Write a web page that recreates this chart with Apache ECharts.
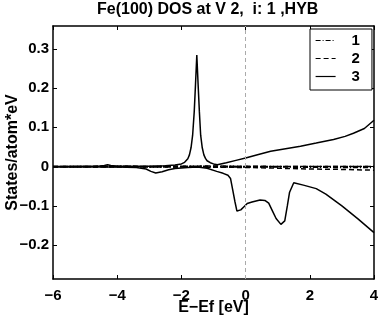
<!DOCTYPE html>
<html><head><meta charset="utf-8">
<script src="https://cdn.jsdelivr.net/npm/echarts@6/dist/echarts.min.js"></script>
<style>html,body{margin:0;padding:0;background:#fff}#c{width:382px;height:315px}</style>
</head><body><div id="c"></div>
<script>
const titleText = 'Fe(100) DOS at V 2,  i: 1 ,HYB';
const xName = 'E\u2212Ef [eV]';
const yName = 'States/atom*eV';
const legendNames = ['1', '2', '3'];
const xTicks = [-6, -4, -2, 0, 2, 4];
const yTicks = [-0.2, -0.1, 0, 0.1, 0.2, 0.3];

// series 1 (dash-dot)
const s1E = [-6, -5, -4, -3, -2, -1, 0, 1, 2, 3, 4];
const s1Up = [0.0005, 0.0005, 0.001, 0.0005, 0.001, 0.001, 0.0005, 0.0005, 0.0005, 0.0005, 0.0005];
const s1Dn = [-0.0005, -0.0005, -0.0005, -0.001, -0.001, -0.001, -0.001, -0.001, -0.0015, -0.002, -0.002];
// series 2 (dashed)
const s2E = [-6, -5, -4, -3, -2, -1, 0, 1, 2, 3, 4];
const s2Up = [0.0005, 0.0005, 0.001, 0.0005, 0.001, 0.0015, 0.001, 0.0005, 0.0005, 0.0005, 0.0005];
const s2Dn = [-0.0005, -0.0005, -0.001, -0.001, -0.001, -0.0015, -0.002, -0.004, -0.006, -0.007, -0.009];
// series 3 (solid), spin up
const s3UpE = [-6, -5, -4.6, -4.4, -4.3, -4.2, -4.0, -3, -2.5, -2.2, -2.0, -1.9, -1.8, -1.75, -1.7, -1.65, -1.6, -1.56, -1.52, -1.48, -1.44, -1.4, -1.35, -1.3, -1.25, -1.2, -1.1, -1.0, -0.88, -0.6, -0.3, 0, 0.4, 0.78, 1.2, 1.71, 2.2, 2.74, 3.1, 3.36, 3.7, 4];
const s3UpV = [0.0005, 0.001, 0.001, 0.003, 0.005, 0.003, 0.001, 0.001, 0.002, 0.004, 0.007, 0.011, 0.02, 0.03, 0.048, 0.08, 0.14, 0.21, 0.284, 0.21, 0.14, 0.08, 0.048, 0.03, 0.021, 0.015, 0.01, 0.007, 0.005, 0.01, 0.016, 0.022, 0.031, 0.039, 0.045, 0.052, 0.06, 0.069, 0.077, 0.085, 0.097, 0.118];
// series 3 (solid), spin down
const s3DnE = [-6, -4, -3.4, -3.1, -2.95, -2.8, -2.6, -2.4, -2.2, -1.8, -1.5, -1.2, -0.9, -0.7, -0.55, -0.47, -0.4, -0.33, -0.27, -0.15, -0.05, 0.05, 0.2, 0.45, 0.6, 0.72, 0.85, 0.95, 1.1, 1.22, 1.3, 1.37, 1.5, 1.8, 2.2, 2.5, 3, 3.5, 4];
const s3DnV = [-0.001, -0.001, -0.002, -0.006, -0.012, -0.016, -0.013, -0.008, -0.005, -0.002, -0.001, -0.004, -0.012, -0.017, -0.022, -0.03, -0.06, -0.09, -0.113, -0.11, -0.102, -0.094, -0.09, -0.085, -0.086, -0.093, -0.115, -0.132, -0.147, -0.138, -0.1, -0.065, -0.041, -0.047, -0.056, -0.07, -0.1, -0.133, -0.168];

const pair = (E, V) => E.map((e, i) => [e, V[i]]);
const font = 'Liberation Sans, Arial, Helvetica, sans-serif';
const fmtNum = v => (v < 0 ? '\u2212' : '') + String(Math.round(Math.abs(v) * 10) / 10);
const yMin = -0.286, yMax = 0.358;

const dashDot = [5, 2, 1, 2];
const dashed = [5, 3];
function mk(name, data, type, extra) {
  return Object.assign({
    name, type: 'line', data, symbol: 'none', smooth: false,
    lineStyle: { color: '#000', width: 1.5, type },
    itemStyle: { color: '#000' },
    emphasis: { disabled: true }, animation: false, z: 3
  }, extra || {});
}

const chart = echarts.init(document.getElementById('c'), null, { renderer: 'canvas' });
const axisLineStyle = { show: true, onZero: false, lineStyle: { color: '#000', width: 1.5 } };
const tickStyle = { show: true, inside: true, length: 4, lineStyle: { color: '#000', width: 1 } };
chart.setOption({
  animation: false,
  backgroundColor: '#fff',
  title: {
    text: titleText, left: 97, top: 2, padding: 0,
    textStyle: { fontFamily: font, fontSize: 16, fontWeight: 'bold', color: '#000' }
  },
  grid: { left: 53, right: 8, top: 26, bottom: 36, containLabel: false, outerBoundsMode: 'none' },
  legend: {
    data: legendNames, orient: 'vertical', left: 310, top: 29,
    padding: [4, 12, 6, 5], itemWidth: 20, itemHeight: 14, itemGap: 3,
    backgroundColor: '#fff', borderColor: '#000', borderWidth: 1, borderRadius: 0,
    itemStyle: { opacity: 0, borderWidth: 0 },
    lineStyle: { width: 1.2 },
    textStyle: { fontFamily: font, fontSize: 15, fontWeight: 'bold', color: '#000', padding: [0, 0, 0, 11] }
  },
  xAxis: [{
    type: 'value', min: -6, max: 4, interval: 2, position: 'bottom',
    name: xName, nameLocation: 'middle', nameGap: 21, nameMoveOverlap: false,
    nameTextStyle: { fontFamily: font, fontSize: 16, fontWeight: 'bold', color: '#000' },
    axisLine: axisLineStyle, axisTick: tickStyle,
    axisLabel: { fontFamily: font, fontSize: 15, fontWeight: 'bold', color: '#000', margin: 9, formatter: v => (v < 0 ? '\u2212' : '') + Math.abs(v) },
    splitLine: { show: false }
  }, {
    type: 'value', min: -6, max: 4, interval: 2, position: 'top',
    axisLine: axisLineStyle, axisTick: tickStyle,
    axisLabel: { show: false }, splitLine: { show: false }
  }],
  yAxis: [{
    type: 'value', min: yMin, max: yMax, position: 'left',
    name: yName, nameLocation: 'middle', nameGap: 32, nameRotate: 90, nameMoveOverlap: false,
    nameTextStyle: { fontFamily: font, fontSize: 16, fontWeight: 'bold', color: '#000' },
    axisLine: axisLineStyle,
    axisTick: Object.assign({ customValues: yTicks }, tickStyle),
    axisLabel: { fontFamily: font, fontSize: 15, fontWeight: 'bold', color: '#000', margin: 4, customValues: yTicks, formatter: fmtNum },
    splitLine: { show: false }
  }, {
    type: 'value', min: yMin, max: yMax, position: 'right',
    axisLine: axisLineStyle,
    axisTick: Object.assign({ customValues: yTicks }, tickStyle),
    axisLabel: { show: false }, splitLine: { show: false }
  }],
  series: [
    mk('1', pair(s1E, s1Up), dashDot, {
      markLine: {
        silent: true, symbol: 'none', label: { show: false },
        lineStyle: { color: '#aaa', type: [4, 3], width: 1 },
        data: [{ xAxis: 0 }], animation: false
      }
    }),
    mk('1', pair(s1E, s1Dn), dashDot),
    mk('2', pair(s2E, s2Up), dashed),
    mk('2', pair(s2E, s2Dn), dashed),
    mk('3', pair(s3UpE, s3UpV), 'solid'),
    mk('3', pair(s3DnE, s3DnV), 'solid')
  ]
});
</script></body></html>
